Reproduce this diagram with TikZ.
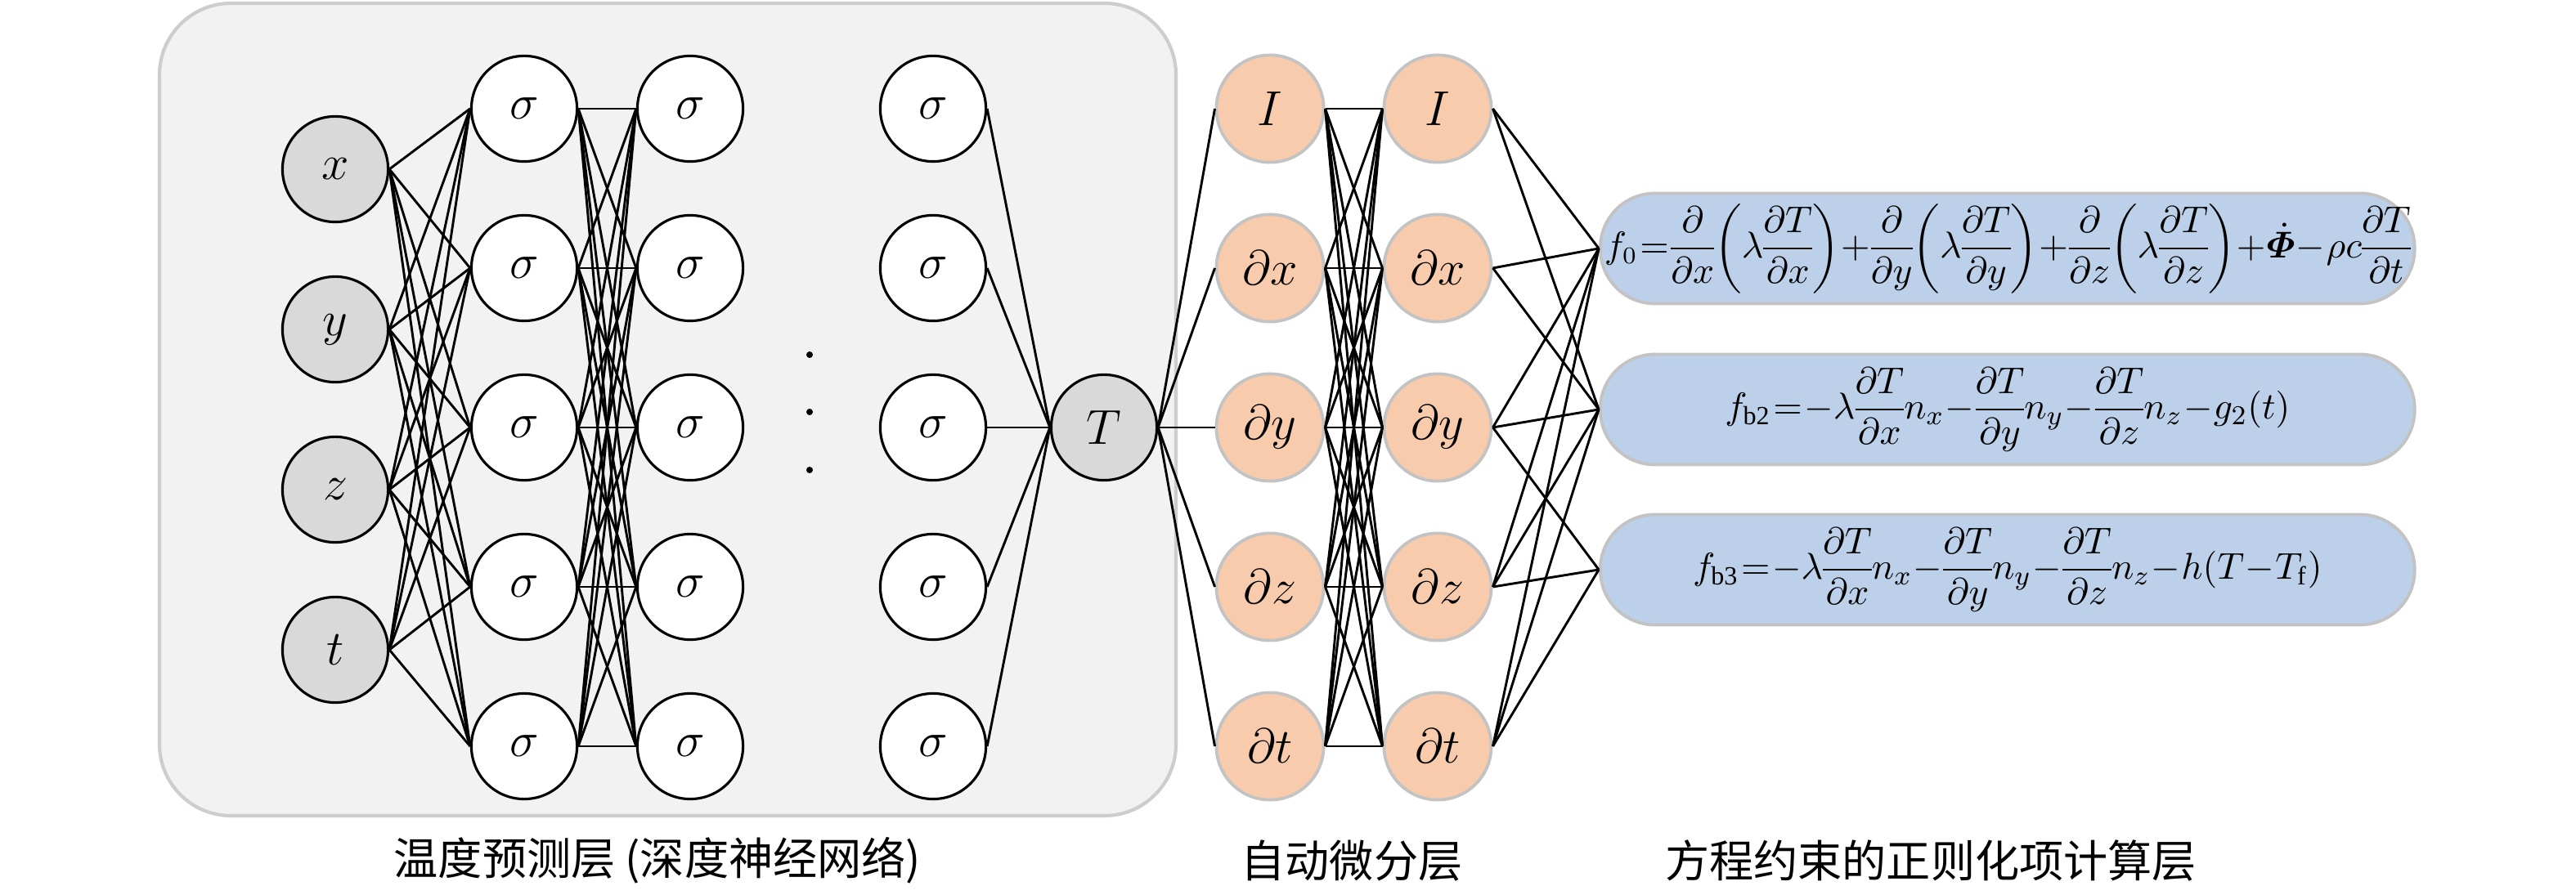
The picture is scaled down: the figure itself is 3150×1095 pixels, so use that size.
\documentclass[tikz,border=0pt]{standalone}
\usepackage{amsmath,bm}
\usepackage{fontspec}
\setmainfont{Liberation Serif}
\newfontfamily\cjkfont{Noto Sans CJK SC}

\definecolor{panelgray}{RGB}{242,242,242}
\definecolor{panelline}{RGB}{205,205,205}
\definecolor{inputgray}{RGB}{217,217,217}
\definecolor{difforange}{RGB}{248,203,173}
\definecolor{eqblue}{RGB}{189,208,233}
\definecolor{ringgray}{RGB}{195,195,195}

\newcommand{\nodesize}{\fontsize{13.5}{16}\selectfont}
\newcommand{\eqsize}{\fontsize{11}{13}\selectfont\medmuskip=0.5mu\thickmuskip=1mu\nulldelimiterspace=0pt}

\tikzset{
  inpnode/.style={circle,draw=black,line width=0.75pt,fill=inputgray,minimum size=31pt,inner sep=0pt,font=\nodesize},
  signode/.style={inpnode,fill=white},
  difnode/.style={circle,draw=ringgray,line width=0.9pt,fill=difforange,minimum size=31.5pt,inner sep=0pt,font=\nodesize},
  eqbox/.style={draw=ringgray,line width=0.9pt,fill=eqblue,rounded corners=16pt,minimum width=239pt,minimum height=32.4pt,inner sep=0pt,anchor=west,font=\eqsize},
  link/.style={line width=0.7pt},
  laylabel/.style={font=\cjkfont\fontsize{13}{15}\selectfont}
}

\begin{document}
\begin{tikzpicture}[x=0.24pt,y=0.24pt,yscale=-1,xscale=1]
\path[use as bounding box] (0,0) rectangle (3150,1095);

%Shape: Rounded Rect [panel]
\draw[draw=panelline,fill=panelgray,line width=1pt,rounded corners=21pt] (195,4) rectangle (1438,998);

%Input layer
\node[inpnode] (in1) at (410,207) {$x$};
\node[inpnode] (in2) at (410,403) {$y$};
\node[inpnode] (in3) at (410,599) {$z$};
\node[inpnode] (in4) at (410,795) {$t$};

%Hidden layers
\foreach \k in {1,...,5} {
  \node[signode] (sa\k) at (641,133+195*\k-195) {$\sigma$};
  \node[signode] (sb\k) at (844,133+195*\k-195) {$\sigma$};
  \node[signode] (sc\k) at (1141,133+195*\k-195) {$\sigma$};
}
%Dots
\fill (990,434) circle[radius=4];
\fill (990,504) circle[radius=4];
\fill (990,575) circle[radius=4];

%Output T
\node[inpnode] (tout) at (1350,523) {$T$};

%Autodiff layers
\node[difnode] (da1) at (1553,133) {$I$};
\node[difnode] (da2) at (1553,328) {$\partial x$};
\node[difnode] (da3) at (1553,523) {$\partial y$};
\node[difnode] (da4) at (1553,718) {$\partial z$};
\node[difnode] (da5) at (1553,913) {$\partial t$};
\node[difnode] (db1) at (1758,133) {$I$};
\node[difnode] (db2) at (1758,328) {$\partial x$};
\node[difnode] (db3) at (1758,523) {$\partial y$};
\node[difnode] (db4) at (1758,718) {$\partial z$};
\node[difnode] (db5) at (1758,913) {$\partial t$};

%Equation boxes
\node[eqbox,font=\eqsize\fontsize{10.7}{13}\selectfont] (f0) at (1955,304) {$\displaystyle f_0=\frac{\partial}{\partial x}\biggl(\lambda\frac{\partial T}{\partial x}\biggr)+\frac{\partial}{\partial y}\biggl(\lambda\frac{\partial T}{\partial y}\biggr)+\frac{\partial}{\partial z}\biggl(\lambda\frac{\partial T}{\partial z}\biggr)+\dot{\bm{\varPhi}}-\rho c\frac{\partial T}{\partial t}$};
\node[eqbox] (fb2) at (1955,501) {$\displaystyle f_{\mathrm{b2}}=-\lambda\frac{\partial T}{\partial x}n_x-\frac{\partial T}{\partial y}n_y-\frac{\partial T}{\partial z}n_z-g_2(t)$};
\node[eqbox] (fb3) at (1955,697) {$\displaystyle f_{\mathrm{b3}}=-\lambda\frac{\partial T}{\partial x}n_x-\frac{\partial T}{\partial y}n_y-\frac{\partial T}{\partial z}n_z-h(T-T_{\mathrm{f}})$};

%Straight Lines
\foreach \i in {1,...,4}
  \foreach \k in {1,...,5}
    \draw[link] (in\i.east) -- (sa\k.west);
\foreach \i in {1,...,5}
  \foreach \k in {1,...,5} {
    \draw[link] (sa\i.east) -- (sb\k.west);
    \draw[link] (da\i.east) -- (db\k.west);
  }
\foreach \k in {1,...,5} {
  \draw[link] (sc\k.east) -- (tout.west);
  \draw[link] (tout.east) -- (da\k.west);
}
\foreach \k in {1,...,5} {
  \draw[link] (db\k.east) -- (f0.west);
  \draw[link] (db\k.east) -- (fb2.west);
}
\foreach \k in {3,4,5}
  \draw[link] (db\k.east) -- (fb3.west);

%Labels
\node[laylabel] (lbnet) at (804,1053) {温度预测层 (深度神经网络)};
\node[laylabel] (lbdiff) at (1653,1053) {自动微分层};
\node[laylabel] (lbreg) at (2361,1053) {方程约束的正则化项计算层};

\end{tikzpicture}
\end{document}
